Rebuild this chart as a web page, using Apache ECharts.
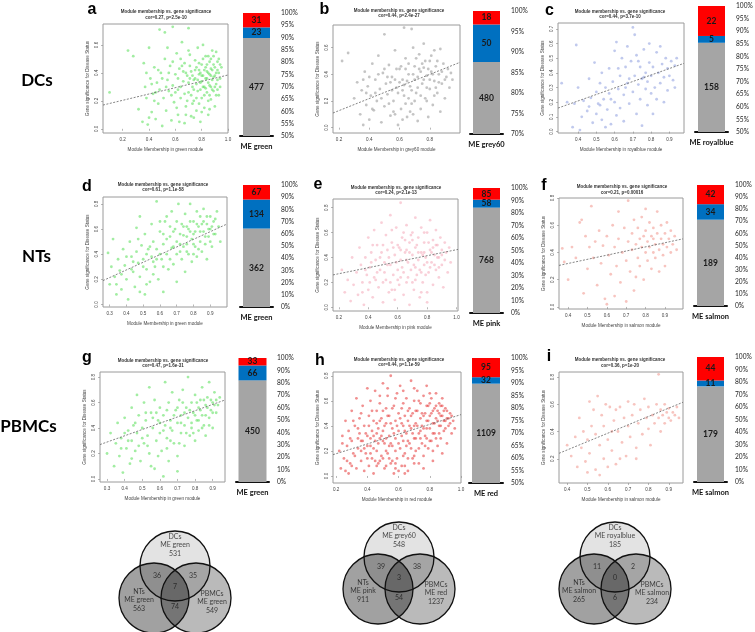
<!DOCTYPE html>
<html><head><meta charset="utf-8">
<script src="https://cdn.jsdelivr.net/npm/echarts@6/dist/echarts.min.js"></script>
<style>html,body{margin:0;padding:0;background:#fff}#c{width:755px;height:632px}</style>
</head><body><div id="c"></div>
<script>
// ---------------- DATA ----------------
// scatter points, flat [x,y,x,y,...] (Module Membership, Gene significance)
const ptsA = [0.10,0.26,0.24,0.56,0.28,0.52,0.32,0.14,0.35,0.05,0.36,0.47,0.37,0.30,0.38,0.22,0.39,0.03,0.40,0.58,0.41,0.36,0.42,0.12,0.43,0.25,0.44,0.44,0.45,0.07,0.46,0.33,0.47,0.18,0.48,0.71,0.48,0.28,0.49,0.40,0.50,0.02,0.51,0.22,0.52,0.50,0.52,0.69,0.53,0.13,0.54,0.35,0.55,0.27,0.56,0.45,0.57,0.06,0.58,0.73,0.58,0.31,0.59,0.19,0.60,0.39,0.61,0.54,0.62,0.10,0.62,0.28,0.63,0.43,0.64,0.22,0.65,0.62,0.66,0.34,0.67,0.04,0.67,0.47,0.68,0.16,0.69,0.38,0.70,0.72,0.70,0.26,0.71,0.53,0.72,0.09,0.72,0.41,0.73,0.30,0.74,0.20,0.75,0.49,0.75,0.36,0.76,0.13,0.77,0.58,0.77,0.27,0.78,0.42,0.79,0.33,0.79,0.05,0.80,0.46,0.80,0.22,0.81,0.38,0.81,0.60,0.82,0.30,0.82,0.15,0.83,0.44,0.83,0.52,0.84,0.26,0.84,0.36,0.85,0.40,0.85,0.10,0.86,0.48,0.86,0.31,0.87,0.21,0.87,0.43,0.88,0.56,0.88,0.35,0.89,0.27,0.89,0.46,0.90,0.38,0.90,0.16,0.91,0.55,0.91,0.32,0.92,0.42,0.93,0.50,0.93,0.24,0.94,0.36,0.95,0.44,0.66,0.41,0.74,0.35,0.78,0.39,0.84,0.41,0.87,0.38,0.80,0.34,0.76,0.44,0.62,0.36,0.70,0.33,0.57,0.24,0.44,0.20,0.40,0.08,0.92,0.28,0.85,0.20,0.73,0.18,
 0.64,0.30,0.65,0.45,0.67,0.25,0.68,0.40,0.69,0.20,0.71,0.36,0.71,0.45,0.72,0.24,0.73,0.38,0.74,0.28,0.75,0.42,0.76,0.32,0.76,0.22,0.77,0.35,0.78,0.47,0.78,0.18,0.79,0.40,0.79,0.28,0.80,0.38,0.81,0.30,0.81,0.50,0.82,0.42,0.82,0.24,0.83,0.36,0.83,0.29,0.84,0.46,0.85,0.33,0.85,0.52,0.86,0.39,0.86,0.24,0.87,0.30,0.87,0.50,0.88,0.42,0.88,0.28,0.89,0.37,0.89,0.52,0.90,0.30,0.90,0.44,0.91,0.40,0.91,0.24,0.92,0.35,0.92,0.48,0.93,0.40,0.94,0.30,0.94,0.46,0.55,0.40,0.53,0.30,0.50,0.36,0.47,0.42,0.45,0.26,0.42,0.32,0.38,0.40,0.60,0.26,0.61,0.15,0.63,0.05,0.68,0.10,0.74,0.08,0.80,0.12,0.86,0.14,0.70,0.56,0.64,0.50,0.58,0.48,0.54,0.58];
const ptsB = [0.22,0.50,0.26,0.56,0.30,0.22,0.32,0.34,0.34,0.10,0.35,0.28,0.36,0.02,0.37,0.42,0.38,0.17,0.39,0.31,0.40,0.06,0.41,0.24,0.42,0.48,0.43,0.13,0.44,0.36,0.45,0.20,0.46,0.54,0.47,0.29,0.48,0.04,0.49,0.41,0.50,0.70,0.50,0.16,0.51,0.33,0.52,0.25,0.53,0.47,0.54,0.09,0.55,0.38,0.56,0.20,0.57,0.58,0.58,0.30,0.59,0.02,0.60,0.44,0.61,0.14,0.62,0.36,0.63,0.75,0.63,0.24,0.64,0.52,0.65,0.08,0.66,0.40,0.67,0.31,0.68,0.74,0.68,0.18,0.69,0.60,0.70,0.46,0.71,0.26,0.72,0.05,0.72,0.38,0.73,0.55,0.74,0.14,0.75,0.33,0.76,0.63,0.76,0.45,0.77,0.22,0.78,0.39,0.79,0.08,0.80,0.50,0.80,0.29,0.81,0.42,0.82,0.17,0.83,0.58,0.83,0.35,0.84,0.46,0.85,0.26,0.86,0.40,0.87,0.59,0.87,0.12,0.88,0.33,0.89,0.48,0.90,0.22,0.91,0.38,0.92,0.44,0.93,0.30,0.94,0.41,0.95,0.36,0.46,0.40,0.54,0.34,0.58,0.44,0.62,0.28,0.66,0.22,0.70,0.36,0.74,0.42,0.78,0.30,0.48,0.22,0.40,0.38,0.56,0.12,0.64,0.44,
 0.50,0.44,0.52,0.38,0.55,0.28,0.57,0.36,0.59,0.26,0.60,0.34,0.61,0.46,0.63,0.32,0.64,0.18,0.65,0.35,0.66,0.48,0.67,0.12,0.68,0.28,0.69,0.40,0.70,0.20,0.71,0.52,0.72,0.30,0.73,0.44,0.74,0.24,0.75,0.48,0.76,0.36,0.77,0.50,0.78,0.20,0.79,0.44,0.80,0.36,0.81,0.54,0.82,0.40,0.83,0.24,0.84,0.30,0.85,0.50,0.86,0.34,0.88,0.42,0.90,0.36,0.44,0.26,0.42,0.14,0.38,0.26,0.36,0.36,0.53,0.18,0.57,0.10,0.62,0.06,0.69,0.10];
const ptsC = [0.31,0.33,0.34,0.20,0.37,0.03,0.38,0.19,0.39,0.59,0.40,0.30,0.41,0.01,0.42,0.10,0.43,0.21,0.45,0.14,0.46,0.36,0.47,0.23,0.48,0.06,0.49,0.47,0.50,0.12,0.50,0.27,0.51,0.19,0.52,0.18,0.53,0.40,0.53,0.08,0.54,0.22,0.55,0.30,0.55,0.03,0.56,0.15,0.57,0.43,0.57,0.26,0.58,0.05,0.59,0.34,0.60,0.20,0.60,0.55,0.61,0.61,0.61,0.11,0.62,0.29,0.63,0.38,0.63,0.16,0.64,0.50,0.65,0.25,0.65,0.07,0.66,0.44,0.67,0.33,0.67,0.58,0.68,0.19,0.69,0.48,0.70,0.27,0.70,0.71,0.71,0.66,0.71,0.38,0.72,0.12,0.72,0.52,0.73,0.32,0.74,0.44,0.74,0.22,0.75,0.36,0.75,0.04,0.76,0.37,0.76,0.56,0.77,0.29,0.77,0.40,0.78,0.34,0.78,0.18,0.79,0.47,0.79,0.60,0.80,0.26,0.80,0.38,0.81,0.12,0.81,0.44,0.82,0.30,0.83,0.54,0.83,0.22,0.84,0.40,0.85,0.58,0.85,0.33,0.86,0.46,0.87,0.20,0.87,0.37,0.88,0.50,0.89,0.28,0.89,0.43,0.90,0.38,0.91,0.48,0.92,0.35,0.93,0.30,0.93,0.45,0.94,0.50,0.62,0.43,0.66,0.30,0.52,0.33,0.46,0.17,0.58,0.22,0.73,0.48,0.68,0.36];
const ptsD = [0.29,0.41,0.30,0.16,0.31,0.30,0.32,0.52,0.33,0.22,0.34,0.08,0.35,0.36,0.36,0.27,0.37,0.12,0.38,0.44,0.39,0.31,0.40,0.20,0.41,0.04,0.42,0.50,0.43,0.38,0.44,0.26,0.45,0.14,0.46,0.61,0.46,0.42,0.47,0.33,0.48,0.70,0.48,0.22,0.49,0.47,0.50,0.36,0.51,0.08,0.51,0.56,0.52,0.28,0.53,0.44,0.54,0.18,0.55,0.64,0.55,0.38,0.56,0.50,0.57,0.30,0.58,0.82,0.58,0.44,0.59,0.20,0.60,0.58,0.61,0.36,0.62,0.48,0.62,0.10,0.63,0.66,0.64,0.40,0.65,0.28,0.66,0.54,0.67,0.45,0.67,0.74,0.68,0.32,0.69,0.60,0.70,0.50,0.70,0.18,0.71,0.80,0.72,0.42,0.73,0.64,0.73,0.36,0.74,0.55,0.75,0.72,0.75,0.26,0.76,0.48,0.77,0.60,0.77,0.40,0.78,0.80,0.79,0.52,0.79,0.34,0.80,0.66,0.81,0.46,0.81,0.58,0.82,0.74,0.82,0.38,0.83,0.62,0.84,0.50,0.84,0.70,0.85,0.42,0.86,0.58,0.86,0.76,0.87,0.48,0.88,0.64,0.88,0.36,0.89,0.54,0.90,0.70,0.90,0.60,0.91,0.46,0.92,0.66,0.93,0.56,0.94,0.74,0.95,0.62,0.96,0.50,0.64,0.52,0.72,0.56,0.68,0.46,0.60,0.40,0.56,0.34,0.76,0.62,0.80,0.56,0.85,0.64,0.52,0.40,0.44,0.34,
 0.62,0.56,0.66,0.62,0.70,0.66,0.72,0.48,0.74,0.62,0.76,0.54,0.78,0.66,0.80,0.48,0.82,0.64,0.83,0.44,0.84,0.58,0.86,0.66,0.87,0.54,0.88,0.70,0.89,0.60,0.90,0.50,0.91,0.62,0.92,0.56,0.93,0.68,0.78,0.58,0.74,0.46,0.70,0.40,0.66,0.36,0.62,0.30,0.58,0.36,0.54,0.46,0.50,0.30,0.47,0.52,0.43,0.28,0.40,0.38,0.37,0.24,0.34,0.16,0.60,0.66,0.64,0.70,0.68,0.58,0.76,0.42,0.80,0.40,0.56,0.24,0.52,0.16,0.48,0.10];
const ptsE = [0.22,0.30,0.24,0.12,0.26,0.22,0.28,0.05,0.29,0.40,0.30,0.18,0.32,0.28,0.33,0.10,0.34,0.48,0.35,0.34,0.36,0.20,0.37,0.02,0.38,0.40,0.39,0.26,0.40,0.56,0.40,0.14,0.41,0.32,0.42,0.44,0.43,0.08,0.44,0.62,0.44,0.24,0.45,0.38,0.46,0.50,0.47,0.16,0.48,0.30,0.49,0.68,0.49,0.44,0.50,0.04,0.51,0.36,0.52,0.58,0.52,0.22,0.53,0.46,0.54,0.12,0.55,0.74,0.55,0.34,0.56,0.52,0.57,0.26,0.58,0.42,0.58,0.06,0.59,0.64,0.60,0.30,0.61,0.48,0.61,0.18,0.62,0.84,0.62,0.38,0.63,0.56,0.64,0.10,0.64,0.28,0.65,0.44,0.66,0.66,0.66,0.20,0.67,0.36,0.68,0.52,0.68,0.02,0.69,0.30,0.70,0.60,0.70,0.42,0.71,0.14,0.72,0.48,0.72,0.72,0.73,0.26,0.74,0.38,0.74,0.56,0.75,0.08,0.76,0.44,0.76,0.64,0.77,0.20,0.78,0.34,0.78,0.52,0.79,0.40,0.80,0.60,0.80,0.12,0.81,0.28,0.82,0.46,0.82,0.70,0.83,0.36,0.84,0.54,0.84,0.18,0.85,0.42,0.86,0.30,0.86,0.62,0.87,0.50,0.88,0.24,0.88,0.40,0.89,0.56,0.90,0.34,0.90,0.46,0.91,0.16,0.92,0.52,0.92,0.38,0.93,0.44,0.94,0.28,0.95,0.48,0.96,0.36,0.46,0.28,0.54,0.40,0.60,0.50,0.66,0.46,0.72,0.32,0.78,0.44,0.84,0.48,0.50,0.20,0.56,0.14,0.62,0.24,0.70,0.54,0.76,0.28,0.42,0.36,
 0.45,0.22,0.48,0.40,0.51,0.28,0.53,0.34,0.55,0.20,0.57,0.48,0.59,0.36,0.60,0.22,0.62,0.46,0.63,0.32,0.65,0.54,0.66,0.38,0.67,0.24,0.68,0.44,0.69,0.58,0.71,0.34,0.72,0.22,0.73,0.50,0.74,0.44,0.75,0.30,0.77,0.42,0.78,0.60,0.79,0.26,0.80,0.36,0.81,0.52,0.82,0.32,0.83,0.44,0.85,0.34,0.86,0.50,0.87,0.40,0.88,0.32,0.90,0.42,0.38,0.30,0.36,0.12,0.41,0.20,0.43,0.50,0.50,0.50,0.56,0.62,0.64,0.60,0.70,0.20,0.76,0.12,0.80,0.04,0.58,0.14];
const ptsF = [0.37,0.43,0.38,0.33,0.40,0.20,0.42,0.44,0.44,0.36,0.46,0.62,0.47,0.64,0.48,0.10,0.49,0.52,0.50,0.28,0.51,0.44,0.52,0.74,0.53,0.36,0.54,0.48,0.55,0.16,0.56,0.56,0.57,0.32,0.58,0.45,0.59,0.06,0.60,0.52,0.61,0.38,0.62,0.24,0.63,0.60,0.64,0.44,0.65,0.30,0.66,0.70,0.66,0.50,0.67,0.18,0.68,0.40,0.69,0.58,0.70,0.34,0.71,0.78,0.71,0.48,0.72,0.26,0.73,0.54,0.73,0.42,0.74,0.64,0.74,0.12,0.75,0.46,0.76,0.36,0.76,0.58,0.77,0.50,0.77,0.30,0.78,0.66,0.78,0.44,0.79,0.52,0.79,0.20,0.80,0.40,0.80,0.56,0.81,0.48,0.81,0.34,0.82,0.62,0.82,0.44,0.83,0.28,0.83,0.52,0.84,0.40,0.84,0.58,0.85,0.46,0.85,0.36,0.86,0.54,0.86,0.70,0.87,0.42,0.87,0.26,0.88,0.50,0.88,0.60,0.89,0.38,0.89,0.46,0.90,0.54,0.90,0.30,0.91,0.44,0.91,0.62,0.92,0.50,0.93,0.40,0.93,0.56,0.94,0.46,0.95,0.52,0.96,0.42,0.60,0.02,0.64,0.08,0.70,0.04,0.75,0.22,0.80,0.72,0.84,0.50];
const ptsG = [0.30,0.20,0.32,0.36,0.34,0.10,0.35,0.28,0.36,0.44,0.37,0.18,0.38,0.32,0.39,0.05,0.40,0.48,0.41,0.24,0.42,0.38,0.43,0.12,0.44,0.56,0.44,0.30,0.45,0.42,0.46,0.22,0.47,0.66,0.47,0.36,0.48,0.50,0.49,0.14,0.50,0.40,0.51,0.60,0.51,0.28,0.52,0.46,0.53,0.34,0.54,0.72,0.54,0.20,0.55,0.52,0.56,0.40,0.57,0.08,0.57,0.62,0.58,0.30,0.59,0.46,0.60,0.36,0.60,0.56,0.61,0.22,0.62,0.50,0.63,0.42,0.63,0.76,0.64,0.32,0.65,0.60,0.65,0.14,0.66,0.46,0.67,0.38,0.67,0.68,0.68,0.28,0.69,0.54,0.70,0.44,0.70,0.18,0.71,0.62,0.72,0.36,0.72,0.50,0.73,0.70,0.74,0.42,0.74,0.26,0.75,0.56,0.76,0.48,0.76,0.80,0.77,0.34,0.78,0.60,0.78,0.44,0.79,0.52,0.80,0.30,0.80,0.66,0.81,0.46,0.82,0.56,0.82,0.38,0.83,0.62,0.84,0.50,0.84,0.72,0.85,0.42,0.86,0.58,0.86,0.34,0.87,0.64,0.88,0.48,0.88,0.76,0.89,0.54,0.90,0.60,0.90,0.40,0.91,0.68,0.92,0.52,0.93,0.58,0.94,0.64,0.62,0.02,0.55,0.10,0.70,0.06,0.48,0.26,0.58,0.52,0.66,0.40,
 0.56,0.48,0.60,0.44,0.62,0.38,0.64,0.54,0.66,0.30,0.68,0.50,0.70,0.56,0.72,0.44,0.74,0.52,0.75,0.36,0.77,0.54,0.78,0.40,0.80,0.50,0.81,0.60,0.82,0.46,0.83,0.54,0.84,0.40,0.85,0.62,0.86,0.50,0.87,0.56,0.88,0.42,0.89,0.62,0.90,0.52,0.91,0.58,0.92,0.62,0.50,0.32,0.52,0.52,0.46,0.44,0.42,0.30,0.40,0.36,0.38,0.24,0.44,0.16,0.53,0.26,0.59,0.18,0.64,0.24,0.71,0.28,0.79,0.36,0.73,0.60];
const ptsH = [0.22,0.20,0.23,0.06,0.24,0.32,0.25,0.14,0.26,0.44,0.27,0.24,0.28,0.02,0.28,0.36,0.29,0.10,0.30,0.52,0.30,0.28,0.31,0.18,0.32,0.40,0.33,0.06,0.33,0.62,0.34,0.22,0.35,0.34,0.35,0.46,0.36,0.12,0.37,0.28,0.37,0.56,0.38,0.04,0.38,0.40,0.39,0.18,0.40,0.70,0.40,0.32,0.41,0.08,0.41,0.48,0.42,0.24,0.42,0.60,0.43,0.36,0.43,0.14,0.44,0.44,0.44,0.02,0.45,0.28,0.45,0.68,0.46,0.52,0.46,0.20,0.47,0.38,0.47,0.10,0.48,0.58,0.48,0.30,0.49,0.46,0.49,0.16,0.50,0.74,0.50,0.36,0.51,0.06,0.51,0.26,0.52,0.54,0.52,0.42,0.53,0.18,0.53,0.64,0.54,0.32,0.54,0.48,0.55,0.10,0.55,0.80,0.56,0.38,0.56,0.24,0.57,0.56,0.57,0.02,0.58,0.44,0.58,0.30,0.59,0.66,0.59,0.14,0.60,0.50,0.60,0.36,0.61,0.22,0.61,0.72,0.62,0.42,0.62,0.08,0.63,0.58,0.63,0.28,0.64,0.48,0.64,0.18,0.65,0.62,0.65,0.34,0.66,0.44,0.66,0.04,0.67,0.54,0.67,0.26,0.68,0.76,0.68,0.38,0.69,0.14,0.69,0.50,0.70,0.60,0.70,0.30,0.71,0.42,0.71,0.20,0.72,0.68,0.72,0.52,0.73,0.34,0.73,0.10,0.74,0.46,0.74,0.58,0.75,0.26,0.75,0.40,0.76,0.64,0.76,0.16,0.77,0.50,0.77,0.32,0.78,0.44,0.78,0.72,0.79,0.22,0.79,0.56,0.80,0.38,0.80,0.48,0.81,0.28,0.81,0.62,0.82,0.42,0.82,0.12,0.83,0.54,0.83,0.34,0.84,0.46,0.84,0.66,0.85,0.24,0.85,0.52,0.86,0.40,0.86,0.58,0.87,0.30,0.87,0.48,0.88,0.18,0.88,0.62,0.89,0.44,0.89,0.36,0.90,0.54,0.91,0.26,0.91,0.46,0.92,0.40,0.93,0.50,0.94,0.34,0.95,0.44,0.96,0.38,0.42,0.30,0.46,0.34,0.50,0.28,0.54,0.24,0.58,0.20,0.62,0.32,0.66,0.28,0.70,0.40,0.74,0.36,0.78,0.30,0.36,0.20,0.40,0.14,0.44,0.22,0.48,0.12,0.52,0.08,0.56,0.12,0.60,0.04,0.64,0.08,0.30,0.08,0.34,0.30,0.26,0.04,
 0.24,0.26,0.27,0.12,0.29,0.30,0.31,0.44,0.32,0.16,0.34,0.38,0.36,0.28,0.36,0.50,0.38,0.22,0.39,0.34,0.41,0.40,0.42,0.18,0.43,0.52,0.44,0.32,0.45,0.12,0.46,0.42,0.47,0.26,0.48,0.44,0.49,0.32,0.50,0.52,0.50,0.14,0.51,0.40,0.52,0.30,0.53,0.48,0.54,0.14,0.55,0.42,0.55,0.26,0.56,0.54,0.57,0.34,0.58,0.10,0.58,0.62,0.59,0.40,0.60,0.26,0.61,0.46,0.62,0.54,0.63,0.16,0.63,0.40,0.64,0.36,0.65,0.24,0.66,0.52,0.66,0.14,0.67,0.40,0.68,0.48,0.68,0.22,0.69,0.34,0.70,0.10,0.71,0.52,0.71,0.30,0.72,0.40,0.73,0.22,0.73,0.60,0.74,0.30,0.75,0.50,0.76,0.38,0.76,0.48,0.77,0.24,0.78,0.56,0.78,0.38,0.79,0.44,0.80,0.28,0.80,0.58,0.81,0.50,0.82,0.34,0.82,0.52,0.83,0.42,0.84,0.56,0.84,0.30,0.85,0.44,0.86,0.50,0.86,0.34,0.87,0.56,0.87,0.40,0.88,0.48,0.89,0.52,0.90,0.44,0.90,0.38,0.91,0.52,0.92,0.46,0.93,0.42,0.94,0.48,0.40,0.24,0.46,0.08,0.52,0.20,0.58,0.06,0.64,0.02,0.70,0.16,0.76,0.06,0.82,0.20,0.48,0.64,0.53,0.70,0.63,0.68,0.70,0.70,0.80,0.66,0.88,0.56];
const ptsI = [0.40,0.30,0.42,0.22,0.44,0.36,0.45,0.14,0.46,0.50,0.47,0.28,0.48,0.40,0.49,0.18,0.50,0.34,0.51,0.62,0.51,0.24,0.52,0.44,0.53,0.56,0.54,0.12,0.54,0.38,0.55,0.66,0.56,0.30,0.57,0.52,0.58,0.20,0.58,0.44,0.59,0.60,0.60,0.34,0.61,0.58,0.62,0.26,0.63,0.48,0.64,0.56,0.64,0.16,0.65,0.40,0.66,0.58,0.67,0.32,0.68,0.50,0.69,0.22,0.70,0.44,0.70,0.62,0.71,0.36,0.72,0.52,0.73,0.60,0.74,0.28,0.75,0.46,0.76,0.56,0.77,0.38,0.78,0.64,0.79,0.50,0.80,0.42,0.80,0.58,0.81,0.30,0.82,0.52,0.83,0.46,0.84,0.60,0.85,0.82,0.85,0.50,0.86,0.40,0.86,0.56,0.87,0.52,0.88,0.46,0.88,0.60,0.89,0.54,0.90,0.50,0.90,0.57,0.91,0.48,0.92,0.54,0.93,0.52,0.94,0.58,0.95,0.50,0.60,0.14,0.56,0.08,0.66,0.20,0.74,0.20,0.50,0.10,0.62,0.40];

// regression line end points
const lineA = [[0.05,0.17],[1.0,0.385]];
const lineB = [[0.16,0.11],[1.0,0.49]];
const lineC = [[0.29,0.16],[0.98,0.465]];
const lineD = [[0.26,0.19],[1.0,0.64]];
const lineE = [[0.16,0.26],[1.01,0.465]];
const lineF = [[0.353,0.305],[0.993,0.50]];
const lineG = [[0.26,0.27],[0.97,0.62]];
const lineH = [[0.18,0.17],[1.0,0.49]];
const lineI = [[0.36,0.24],[0.97,0.615]];

// correlation titles
const corText = ["cor=0.27, p=2.5e-10","cor=0.44, p=2.4e-27","cor=0.44, p=3.7e-10","cor=0.61, p=1.1e-58","cor=0.24, p=2.1e-13","cor=0.21, p=0.00016","cor=0.47, p=1.6e-31","cor=0.44, p=1.1e-59","cor=0.36, p=1e-20"];
const modules = ["green","grey60","royalblue","green","pink","salmon","green","red","salmon"];
const letters = ["a","b","c","d","e","f","g","h","i"];
const rowLabels = ["DCs","NTs","PBMCs"];

// stacked bar counts: [grey, blue, red]
const barA = [477,23,31];
const barB = [480,50,18];
const barC = [158,5,22];
const barD = [362,134,67];
const barE = [768,58,85];
const barF = [189,34,42];
const barG = [450,66,33];
const barH = [1109,32,95];
const barI = [179,11,44];
// bar percent axis: [min, interval]
const barAxis = [[50,5],[70,5],[50,5],[0,10],[0,10],[0,10],[0,10],[50,5],[0,10]];

// scatter tick labels
const xTicks = [[0.2,0.4,0.6,0.8,1.0],[0.2,0.4,0.6,0.8],[0.4,0.5,0.6,0.7,0.8,0.9],[0.3,0.4,0.5,0.6,0.7,0.8,0.9],[0.2,0.4,0.6,0.8,1.0],[0.4,0.5,0.6,0.7,0.8,0.9],[0.3,0.4,0.5,0.6,0.7,0.8,0.9],[0.2,0.4,0.6,0.8,1.0],[0.4,0.5,0.6,0.7,0.8,0.9]];
const yTicks = [[0.0,0.2,0.4,0.6],[0.0,0.2,0.4,0.6],[0.0,0.1,0.2,0.3,0.4,0.5,0.6,0.7],[0.0,0.2,0.4,0.6,0.8],[0.0,0.2,0.4,0.6,0.8],[0.0,0.2,0.4,0.6,0.8],[0.0,0.2,0.4,0.6,0.8],[0.0,0.2,0.4,0.6,0.8],[0.2,0.4,0.6,0.8]];

// Venn diagrams: set names and counts [top, left, right, top&left, top&right, left&right, all]
const vennNames = [["DCs\nME green","NTs\nME green","PBMCs\nME green"],["DCs\nME grey60","NTs\nME pink","PBMCs\nME red"],["DCs\nME royalblue","NTs\nME salmon","PBMCs\nME salmon"]];
const vennCounts = [[531,563,549,36,35,74,7],[548,911,1237,39,38,54,3],[185,265,234,11,2,6,0]];

// ---------------- LAYOUT / STYLE ----------------
const pts = [ptsA,ptsB,ptsC,ptsD,ptsE,ptsF,ptsG,ptsH,ptsI];
const lines = [lineA,lineB,lineC,lineD,lineE,lineF,lineG,lineH,lineI];
const bars = [barA,barB,barC,barD,barE,barF,barG,barH,barI];
const ptColor = ['rgba(100,225,100,0.75)','rgba(150,150,150,0.7)','rgba(150,165,225,0.75)','rgba(100,225,100,0.75)','rgba(245,175,190,0.75)','rgba(240,150,140,0.7)','rgba(100,225,100,0.75)','rgba(232,70,70,0.75)','rgba(240,150,140,0.7)'];
const xRange = [[0.05,1.0],[0.16,1.0],[0.29,0.98],[0.26,1.0],[0.16,1.01],[0.353,0.993],[0.26,0.97],[0.18,1.0],[0.36,0.97]];
const yRange = [[-0.03,0.75],[-0.04,0.77],[-0.01,0.74],[-0.02,0.855],[-0.03,0.87],[-0.015,0.80],[-0.024,0.84],[-0.056,0.83],[0.022,0.837]];
const sGrid = [[103,24,125,109],[333,25,127,108],[558,23,126,110],[103,197,124,110],[333,199,125,112],[559,198,124,111],[100,372,125,110],[333,372,128,111],[559,372,124,111]];
const bGrid = [[240,13,33,123,27],[470,11,33,123,27],[695,6,33,126,27],[240,185,33,122,27],[470,188,33,125,27],[694,185,33,121,27],[236,358,33,124,28],[469,358,34,125,28],[694,357,33,125,27]];
const letterPos = [[92,9.5],[324.5,9.5],[549.5,10.5],[87,186.5],[318,185],[544,186],[87,357.5],[320,360.5],[549,357]];
const titlePos = [[166,14.7],[399,13.2],[620,14.2],[163,187.5],[396,190.5],[622,189.8],[163,363.3],[399,362.5],[620,362.7]];
const rowPos = [[37,80.5],[36.5,256.7],[28.5,427]];
const vennCenter = [[175,587],[399,578],[615,578]];
const barColors = ['#a5a5a5','#0070c0','#ff0000'];

function pairs(f){const o=[];for(let i=0;i<f.length;i+=2)o.push([f[i],f[i+1]]);return o;}

const grid=[],xAxis=[],yAxis=[],series=[],graphic=[];
const smallFont='Liberation Sans';
for(let i=0;i<9;i++){
  const g=grid.length, s=sGrid[i];
  grid.push({left:s[0],top:s[1],width:s[2],height:s[3],show:true,borderColor:'#9a9a9a',borderWidth:1,backgroundColor:'rgba(0,0,0,0)',outerBoundsMode:'none'});
  xAxis.push({type:'value',gridIndex:g,min:xRange[i][0],max:xRange[i][1],
    axisLine:{show:false},splitLine:{show:false},
    axisTick:{show:true,length:2,customValues:xTicks[i],lineStyle:{color:'#888',width:0.6}},
    axisLabel:{customValues:xTicks[i],formatter:v=>v.toFixed(1),fontSize:4.6,margin:4,color:'#444',fontFamily:smallFont},
    name:'Module Membership in '+modules[i]+' module',nameLocation:'middle',nameGap:14,
    nameTextStyle:{fontSize:4.6,color:'#444',fontFamily:smallFont}});
  yAxis.push({type:'value',gridIndex:g,min:yRange[i][0],max:yRange[i][1],
    axisLine:{show:false},splitLine:{show:false},
    axisTick:{show:true,length:2,customValues:yTicks[i],lineStyle:{color:'#888',width:0.6}},
    axisLabel:{customValues:yTicks[i],formatter:v=>v.toFixed(1),fontSize:4.6,margin:4,rotate:90,color:'#444',fontFamily:smallFont},
    name:'Gene significance for Disease Status',nameLocation:'middle',nameGap:13,
    nameTextStyle:{fontSize:4.6,color:'#444',fontFamily:smallFont}});
  series.push({type:'scatter',xAxisIndex:g,yAxisIndex:g,data:pairs(pts[i]),symbol:'circle',symbolSize:2.8,itemStyle:{color:ptColor[i]},silent:true});
  series.push({type:'line',xAxisIndex:g,yAxisIndex:g,data:lines[i],symbol:'none',silent:true,lineStyle:{color:'#666',width:0.8,type:[2,1.5]}});

  // stacked percentage bar
  const b=grid.length, bg=bGrid[i];
  grid.push({left:bg[0],top:bg[1],width:bg[2],height:bg[3],outerBoundsMode:'none'});
  xAxis.push({type:'category',gridIndex:b,data:['ME '+modules[i]],
    axisLine:{show:true,lineStyle:{color:'#111',width:2}},axisTick:{show:false},
    axisLabel:{fontSize:7.5,fontWeight:'bold',fontFamily:'Lato',color:'#111',margin:7}});
  yAxis.push({type:'value',gridIndex:b,position:'right',min:barAxis[i][0],max:100,interval:barAxis[i][1],
    axisLine:{show:false},axisTick:{show:false},splitLine:{show:false},
    axisLabel:{formatter:'{value}%',fontSize:6.6,margin:8,color:'#222',fontFamily:'Lato'}});
  const tot=bars[i].reduce((a,c)=>a+c,0);
  bars[i].forEach((v,k)=>{
    series.push({type:'bar',xAxisIndex:b,yAxisIndex:b,stack:'st'+i,data:[v/tot*100],barWidth:bg[4],
      itemStyle:{color:barColors[k]},silent:true,
      label:{show:true,position:'inside',formatter:String(v),fontSize:8.5,fontWeight:'bold',fontFamily:'Lato',color:'#1a1a1a'}});
  });

  // panel letter + title
  graphic.push({type:'text',x:letterPos[i][0],y:letterPos[i][1],silent:true,
    style:{text:letters[i],fontSize:16,fontWeight:'bold',fontFamily:'Liberation Sans',fill:'#000',align:'center',verticalAlign:'middle'}});
  graphic.push({type:'text',x:titlePos[i][0],y:titlePos[i][1],silent:true,
    style:{text:'Module membership vs. gene significance\n'+corText[i],fontSize:4.5,lineHeight:5.2,fontWeight:'bold',fontFamily:smallFont,fill:'#333',align:'center',verticalAlign:'middle'}});
}
rowLabels.forEach((t,r)=>graphic.push({type:'text',x:rowPos[r][0],y:rowPos[r][1],silent:true,
  style:{text:t,fontSize:17,fontWeight:'bold',fontFamily:'Lato',fill:'#000',align:'center',verticalAlign:'middle'}}));

// Venn diagrams: hidden 1px-per-unit grids, circles via custom series
const vennCircles = [[0,-21],[-21,11],[21,11]];
const vennR = 35;
const vennFill = [0.11,0.37,0.27];
const vennTextPos = [[0,-42],[-36,13],[37,15],[-18,-11],[18,-11],[0,20],[0,0]];
for(let v=0;v<3;v++){
  const g=grid.length, c=vennCenter[v];
  grid.push({left:c[0]-60,top:c[1]-60,width:120,height:120,outerBoundsMode:'none'});
  xAxis.push({type:'value',gridIndex:g,min:-60,max:60,show:false});
  yAxis.push({type:'value',gridIndex:g,min:-60,max:60,inverse:true,show:false});
  const cd=[];
  vennCircles.forEach((p,k)=>cd.push([p[0],p[1],k]));
  vennCircles.forEach((p,k)=>cd.push([p[0],p[1],k+3]));
  series.push({type:'custom',xAxisIndex:g,yAxisIndex:g,data:cd,silent:true,clip:false,
    renderItem:(params,api)=>{
      const p=api.coord([api.value(0),api.value(1)]);
      const r=api.size([vennR,0])[0];
      const k=api.value(2);
      return {type:'circle',shape:{cx:p[0],cy:p[1],r:r},
        style:k<3?{fill:'rgba(0,0,0,'+vennFill[k]+')',stroke:null}:{fill:'none',stroke:'#111',lineWidth:1.3}};
    }});
  const cnt=vennCounts[v], nm=vennNames[v];
  const txt=[nm[0]+'\n'+cnt[0],nm[1]+'\n'+cnt[1],nm[2]+'\n'+cnt[2],String(cnt[3]),String(cnt[4]),String(cnt[5]),String(cnt[6])];
  series.push({type:'scatter',xAxisIndex:g,yAxisIndex:g,symbolSize:0,silent:true,
    data:vennTextPos.map((p,k)=>({value:[p[0],p[1]],label:{formatter:txt[k]}})),
    label:{show:true,position:'inside',fontSize:7,lineHeight:8.5,fontFamily:'Lato',color:'#1a1a1a'}});
}

const chart=echarts.init(document.getElementById('c'),null,{renderer:'canvas'});
chart.setOption({animation:false,backgroundColor:'#fff',grid,xAxis,yAxis,series,graphic});
</script></body></html>
